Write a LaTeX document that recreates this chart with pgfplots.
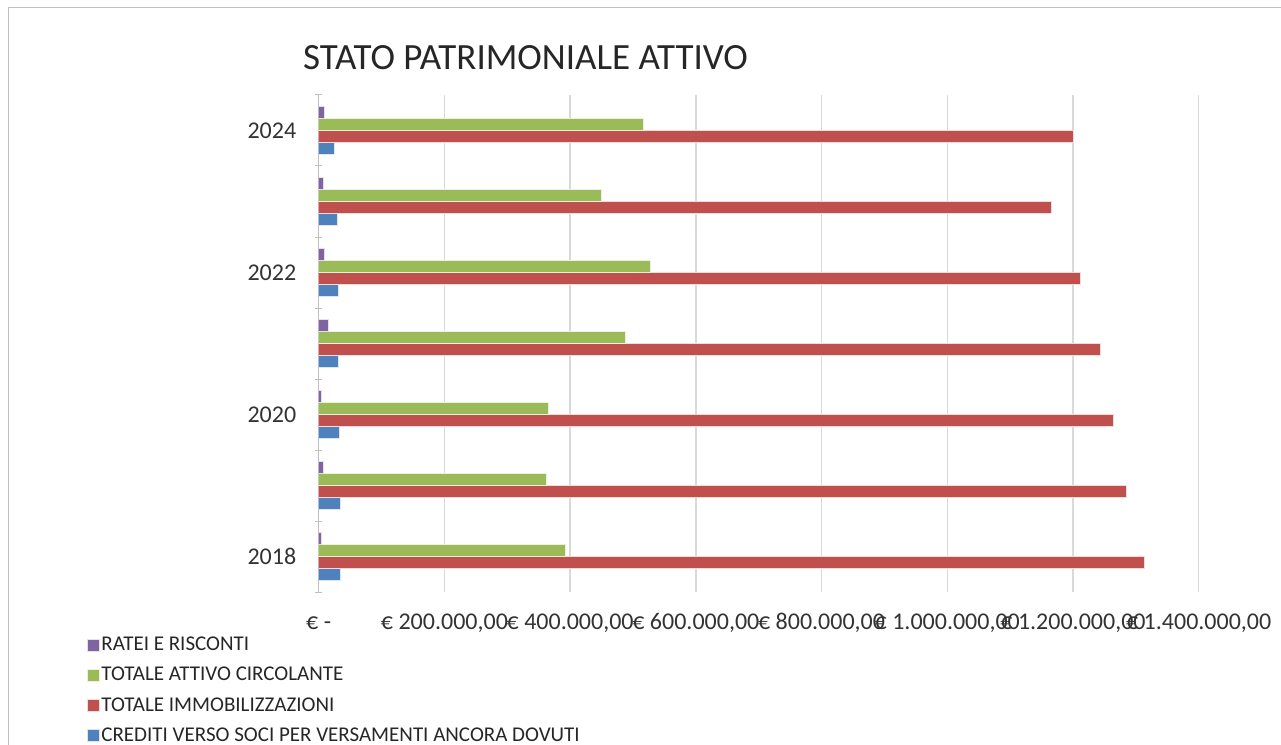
\documentclass[border=0pt]{standalone}
\usepackage{fontspec}
\setmainfont{Carlito}
\usepackage{pgfplots}
\pgfplotsset{compat=1.18}
\definecolor{cRat}{HTML}{8064A2}
\definecolor{cAtt}{HTML}{9BBB59}
\definecolor{cImm}{HTML}{C0504D}
\definecolor{cCre}{HTML}{4F81BD}
\definecolor{cGrid}{HTML}{D9D9D9}
\definecolor{cAx}{HTML}{BFBFBF}
\begin{document}
\begin{tikzpicture}
\useasboundingbox (0,0) rectangle (1281pt,744pt);
\draw[cAx, line width=1pt] (8pt,-5pt) -- (8pt,736pt) -- (1290pt,736pt);
\begin{axis}[
  at={(318.7pt,152pt)}, anchor=south west,
  scale only axis, width=880pt, height=497pt,
  xbar=0pt, bar width=12pt,
  xmin=0, xmax=1400000, ymin=-0.5, ymax=6.5,
  scaled ticks=false,
  axis lines=left,
  x axis line style={draw=none,-},
  y axis line style={cAx,line width=1pt,-},
  xtick={0,200000,400000,600000,800000,1000000,1200000,1400000},
  xticklabels={{€ -},{€ 200.000,00},{€ 400.000,00},{€ 600.000,00},{€ 800.000,00},{€ 1.000.000,00},{€ 1.200.000,00},{€ 1.400.000,00}},
  xtick style={draw=none},
  xmajorgrids, major grid style={cGrid,line width=1.5pt},
  ytick={-0.5,0.5,...,6.5}, yticklabels={},
  ytick style={cAx,line width=1pt}, major tick length=7pt,
  extra y ticks={0,2,4,6}, extra y tick labels={2018,2020,2022,2024},
  extra y tick style={major tick length=0pt, ymajorgrids=false, yticklabel style={xshift=-19pt}},
  ticklabel style={font=\fontsize{24}{28}\selectfont, text=black!80},
  xticklabel style={yshift=-13pt, text height=17pt, text depth=5pt},
  title={STATO PATRIMONIALE ATTIVO},
  title style={at={(0,1)}, anchor=west, xshift=-19pt, yshift=31pt, font=\fontsize{37}{44}\selectfont, text=black!85},
  legend style={at={(0,0)}, anchor=north west, xshift=-235pt, yshift=-41pt, draw=none, fill=none,
    font=\fontsize{21}{25}\selectfont, text=black!85, row sep=11pt, legend cell align=left},
  legend image code/.code={\fill[#1] (0pt,-6pt) rectangle (12pt,6pt);},
  reverse legend,
]
\addplot[fill=cCre, draw=white!80!cCre, line width=0.5pt] coordinates {(34400,0) (34400,1) (33400,2) (31800,3) (30500,4) (29000,5) (25000,6)};
\addplot[fill=cImm, draw=white!80!cImm, line width=0.5pt] coordinates {(1313000,0) (1285000,1) (1264000,2) (1244000,3) (1212000,4) (1165500,5) (1200000,6)};
\addplot[fill=cAtt, draw=white!80!cAtt, line width=0.5pt] coordinates {(393000,0) (361600,1) (365000,2) (487000,3) (527000,4) (449600,5) (516000,6)};
\addplot[fill=cRat, draw=white!80!cRat, line width=0.5pt] coordinates {(4800,0) (6800,1) (3700,2) (15300,3) (9500,4) (7300,5) (8400,6)};
\legend{CREDITI VERSO SOCI PER VERSAMENTI ANCORA DOVUTI,TOTALE IMMOBILIZZAZIONI,TOTALE ATTIVO CIRCOLANTE,RATEI E RISCONTI}
\end{axis}
\end{tikzpicture}
\end{document}
